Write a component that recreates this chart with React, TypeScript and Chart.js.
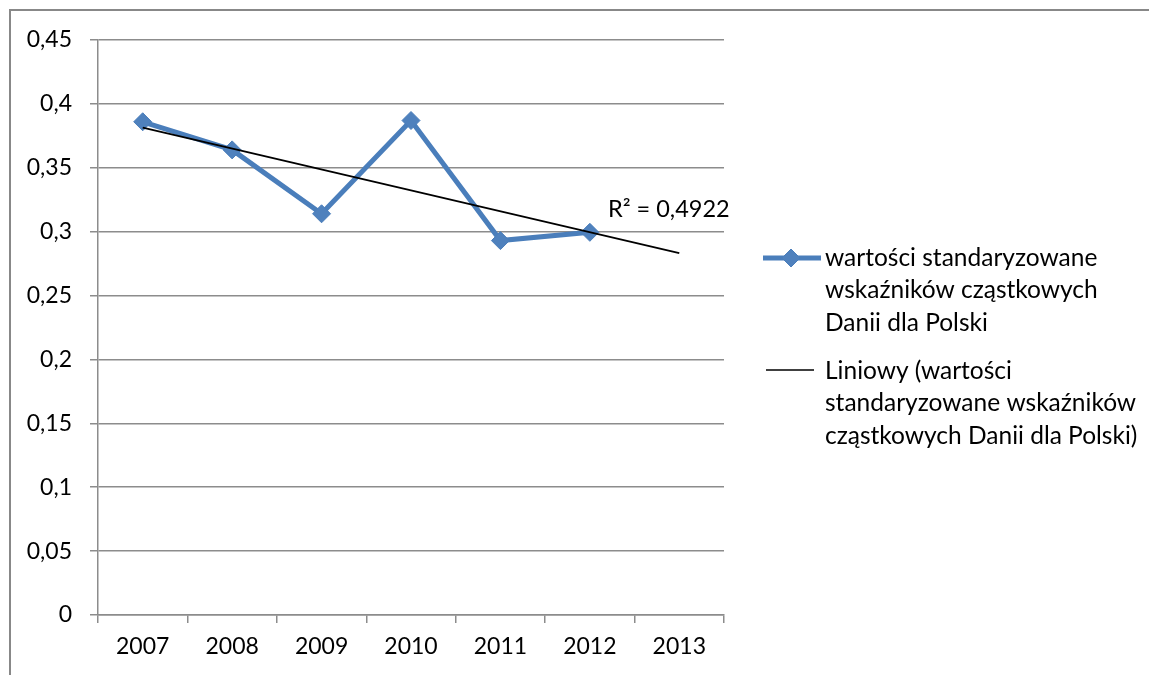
import React, { useEffect, useRef } from 'react';
import { Chart, registerables } from 'chart.js';
Chart.register(...registerables);

const categories = ['2007', '2008', '2009', '2010', '2011', '2012', '2013'];
const seriesValues = [0.386, 0.364, 0.314, 0.387, 0.293, 0.2995, null];
const trendValues = [0.3815, null, null, null, null, null, 0.2832];
const yTickLabels = ['0', '0,05', '0,1', '0,15', '0,2', '0,25', '0,3', '0,35', '0,4', '0,45'];
const seriesLabel = ['wartości standaryzowane', 'wskaźników cząstkowych', 'Danii dla Polski'];
const trendLabel = ['Liniowy (wartości', 'standaryzowane wskaźników', 'cząstkowych Danii dla Polski)'];
const rSquaredText = 'R² = 0,4922';

const FONT = 'Lato';
const TICK_SIZE = 23;
const LEGEND_SIZE = 24.5;
const R2_SIZE = 23.5;
const BLUE_LINE = '#4A7EBB';
const BLUE_FILL = '#4F81BD';
const GRID = '#8C8C8C';

const framePlugin = {
  id: 'frame',
  beforeDraw(chart: any) {
    const ctx = chart.ctx;
    ctx.save();
    ctx.fillStyle = '#fff';
    ctx.fillRect(0, 0, chart.width, chart.height);
    ctx.strokeStyle = '#888888';
    ctx.lineWidth = 2;
    ctx.strokeRect(10, 10, chart.width + 50, chart.height + 50);
    ctx.restore();
  },
};

const extrasPlugin = {
  id: 'extras',
  afterDraw(chart: any) {
    const ctx = chart.ctx;
    const yScale = chart.scales.y;
    const area = chart.chartArea;
    ctx.save();
    ctx.fillStyle = '#000';
    ctx.textBaseline = 'middle';
    ctx.textAlign = 'left';
    // R² label
    ctx.font = `${R2_SIZE}px ${FONT}`;
    ctx.fillText(rSquaredText, area.right - 116, yScale.getPixelForValue(0.3) - 22);

    // legend
    ctx.font = `${LEGEND_SIZE}px ${FONT}`;
    const lx = area.right + 39;
    const tx = area.right + 101;
    const lineH = 32.5;
    const y1 = 258;
    ctx.strokeStyle = BLUE_LINE;
    ctx.lineWidth = 5;
    ctx.beginPath();
    ctx.moveTo(lx, y1);
    ctx.lineTo(lx + 58, y1);
    ctx.stroke();
    ctx.beginPath();
    const cx = lx + 28;
    const r = 9;
    ctx.moveTo(cx, y1 - r);
    ctx.lineTo(cx + r, y1);
    ctx.lineTo(cx, y1 + r);
    ctx.lineTo(cx - r, y1);
    ctx.closePath();
    ctx.fillStyle = BLUE_FILL;
    ctx.fill();
    ctx.lineWidth = 1;
    ctx.stroke();
    ctx.fillStyle = '#000';
    seriesLabel.forEach((t, i) => ctx.fillText(t, tx, y1 + i * lineH));

    const y2 = 370;
    ctx.strokeStyle = '#000';
    ctx.lineWidth = 1.5;
    ctx.beginPath();
    ctx.moveTo(lx + 3, y2);
    ctx.lineTo(lx + 51, y2);
    ctx.stroke();
    trendLabel.forEach((t, i) => ctx.fillText(t, tx, y2 + 1 + i * lineH));
    ctx.restore();
  },
};

export default function App() {
  const ref = useRef<HTMLCanvasElement>(null);
  useEffect(() => {
    if (!ref.current) return;
    Chart.defaults.font.family = FONT;
    Chart.defaults.font.size = TICK_SIZE;
    Chart.defaults.color = '#000';
    const chart = new Chart(ref.current, {
      type: 'line',
      data: {
        labels: categories,
        datasets: [
          {
            label: seriesLabel.join(' '),
            data: seriesValues,
            borderColor: BLUE_LINE,
            backgroundColor: BLUE_FILL,
            borderWidth: 5,
            pointStyle: 'rectRot',
            pointRadius: 9,
            pointBorderWidth: 1,
            pointBorderColor: BLUE_LINE,
            pointBackgroundColor: BLUE_FILL,
            tension: 0,
            order: 2,
          },
          {
            label: trendLabel.join(' '),
            data: trendValues,
            borderColor: '#000',
            borderWidth: 1.8,
            pointRadius: 0,
            spanGaps: true,
            tension: 0,
            order: 1,
          },
        ],
      },
      options: {
        animation: false,
        responsive: false,
        layout: { padding: { top: 40, right: 425, left: 0, bottom: 0 } },
        plugins: { legend: { display: false }, tooltip: { enabled: false } },
        scales: {
          x: {
            offset: true,
            grid: {
              offset: true,
              drawOnChartArea: false,
              drawTicks: true,
              tickLength: 8,
              color: GRID,
              lineWidth: 1.5,
            },
            border: { color: GRID, width: 1.5 },
            ticks: { padding: 10, font: { size: TICK_SIZE, family: FONT }, color: '#000', maxRotation: 0 },
            afterFit: (s: any) => { s.height = 60; },
          },
          y: {
            min: 0,
            max: 0.45,
            ticks: {
              stepSize: 0.05,
              padding: 18,
              color: '#000',
              font: { size: TICK_SIZE, family: FONT },
              callback: (v: any) => yTickLabels[Math.round(Number(v) / 0.05)],
            },
            grid: { color: GRID, lineWidth: 1.5, tickLength: 8 },
            border: { color: GRID, width: 1.5 },
            afterFit: (s: any) => { s.width = 98; },
          },
        },
      },
      plugins: [framePlugin, extrasPlugin],
    });
    return () => chart.destroy();
  }, []);
  return (
    <div style={{ position: 'absolute', left: 0, top: 0, width: 1149, height: 675 }}>
      <canvas ref={ref} width={1149} height={675} style={{ display: 'block' }} />
    </div>
  );
}
